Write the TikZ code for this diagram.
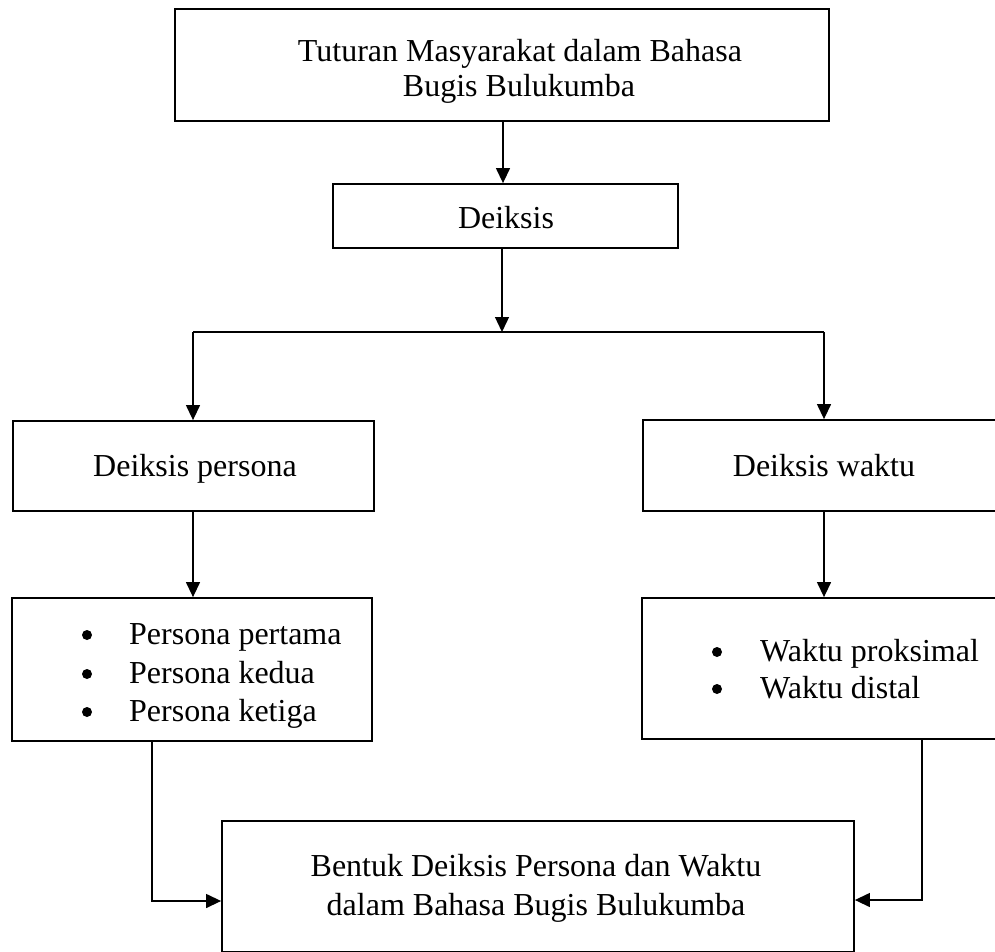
\documentclass[tikz,border=0pt]{standalone}
\usepackage{fontspec}
\setmainfont{Liberation Serif}
\usetikzlibrary{arrows.meta}
\begin{document}
\begin{tikzpicture}[x=1pt,y=-1pt,
  box/.style={draw, line width=1.8pt, inner sep=0pt, rectangle},
  txt/.style={inner sep=0pt, anchor=base, font=\fontsize{32}{38}\selectfont},
  item/.style={inner sep=0pt, anchor=base west, font=\fontsize{32}{38}\selectfont},
  conn/.style={line width=1.3pt, -{Triangle[length=15pt,width=14pt]}},
  plain/.style={line width=1.3pt}]
\useasboundingbox (0,0) rectangle (995,952);
\clip (0,0) rectangle (995,952);
% boxes
\node[box, minimum width=654pt, minimum height=112pt] (top) at (502,65) {};
\node[box, minimum width=345pt, minimum height=64pt] (deiksis) at (505.5,216) {};
\node[box, minimum width=361pt, minimum height=90pt] (persona) at (193.5,466) {};
\node[box, minimum width=362pt, minimum height=91pt] (waktu) at (824,465.5) {};
\node[box, minimum width=360pt, minimum height=143pt] (plist) at (192,669.5) {};
\node[box, minimum width=363pt, minimum height=141pt] (wlist) at (823.5,668.5) {};
\node[box, minimum width=632pt, minimum height=131pt] (bottom) at (538,886.5) {};
% texts
\node[txt] (t1a) at (520,62) {Tuturan Masyarakat dalam Bahasa};
\node[txt] (t1b) at (519,97) {Bugis Bulukumba};
\node[txt] (t2) at (506,228) {Deiksis};
\node[txt] (t3) at (195,476) {Deiksis persona};
\node[txt] (t4) at (824,476) {Deiksis waktu};
\node[item] (l1) at (129,644) {Persona pertama};
\node[item] (l2) at (129,683) {Persona kedua};
\node[item] (l3) at (129,721) {Persona ketiga};
\node[item] (r1) at (760,661) {Waktu proksimal};
\node[item] (r2) at (760,698) {Waktu distal};
\node[txt] (t5a) at (536,876) {Bentuk Deiksis Persona dan Waktu};
\node[txt] (t5b) at (536,915) {dalam Bahasa Bugis Bulukumba};
% bullets
\fill (87,635) circle (5pt);
\fill (87,674) circle (5pt);
\fill (87,712) circle (5pt);
\fill (717,652) circle (5pt);
\fill (717,689) circle (5pt);
% connectors
\coordinate (j) at (502,332);
\coordinate (jl) at (193,332);
\coordinate (jr) at (824,332);
\draw[conn] ([xshift=1pt]top.south) -- ([xshift=1pt]top.south |- deiksis.north);
\draw[conn] ([xshift=-3.5pt]deiksis.south) -- (j);
\draw[plain] (jl) -- (jr);
\draw[conn] (jl) -- (jl |- persona.north);
\draw[conn] (jr) -- (jr |- waktu.north);
\draw[conn] ([xshift=-0.5pt]persona.south) -- ([xshift=-0.5pt]persona.south |- plist.north);
\draw[conn] (waktu.south) -- (waktu.south |- wlist.north);
\draw[conn] ([xshift=-40pt]plist.south) |- ([yshift=-14.5pt]bottom.west);
\draw[conn] ([xshift=98.5pt]wlist.south) |- ([yshift=-13.5pt]bottom.east);
\end{tikzpicture}
\end{document}
